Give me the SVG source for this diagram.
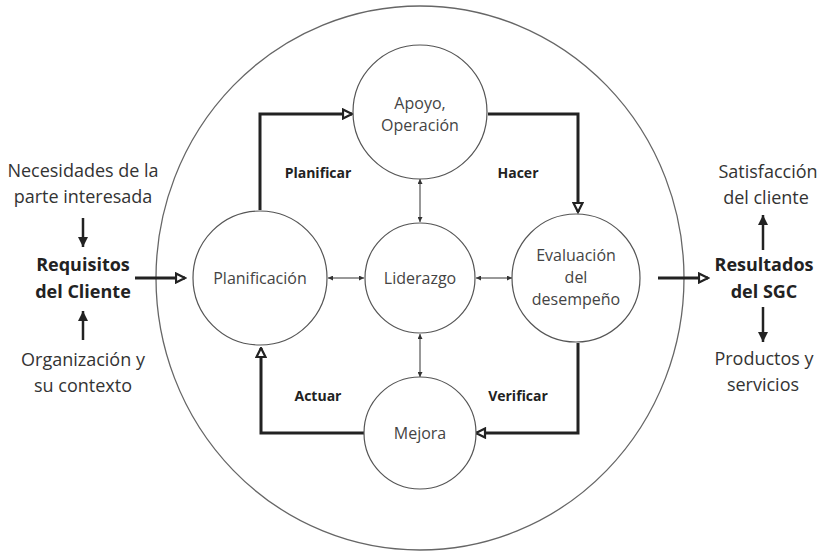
<svg xmlns="http://www.w3.org/2000/svg" width="823" height="551" viewBox="0 0 823 551">
<style>
  .node { fill: #fff; stroke: #555; stroke-width: 1.2; }
  .big { fill: none; stroke: #666; stroke-width: 1.3; }
  .t { font-family: "Open Sans", "Noto Sans", sans-serif; font-size: 18px; fill: #333; text-anchor: middle; }
  .c { font-family: "Open Sans", "Noto Sans", sans-serif; font-size: 16px; fill: #444; text-anchor: middle; }
  .b { font-family: "Open Sans", "Noto Sans", sans-serif; font-size: 18px; font-weight: bold; fill: #222; text-anchor: middle; }
  .lab { font-family: "Open Sans", "Noto Sans", sans-serif; font-size: 14px; font-weight: bold; fill: #222; text-anchor: middle; }
  .thick { fill: none; stroke: #222; stroke-width: 3; marker-end: url(#hollow); }
  .side { fill: none; stroke: #222; stroke-width: 2.5; marker-end: url(#solid); }
  .thin { fill: none; stroke: #333; stroke-width: 1; marker-start: url(#small); marker-end: url(#small); }
</style>
<defs>
  <marker id="hollow" viewBox="0 0 12 12" refX="10.5" refY="6" markerWidth="12" markerHeight="12" markerUnits="userSpaceOnUse" orient="auto">
    <path d="M1.5,1.5 L10.5,6 L1.5,10.5 z" fill="#fff" stroke="#222" stroke-width="2.2"/>
  </marker>
  <marker id="solid" viewBox="0 0 10 10" refX="10" refY="5" markerWidth="10" markerHeight="11" markerUnits="userSpaceOnUse" orient="auto">
    <path d="M0,0 L10,5 L0,10 z" fill="#222"/>
  </marker>
  <marker id="small" viewBox="0 0 6 6" refX="6" refY="3" markerWidth="6" markerHeight="5" markerUnits="userSpaceOnUse" orient="auto-start-reverse">
    <path d="M0,0 L6,3 L0,6 z" fill="#333"/>
  </marker>
</defs>

<ellipse class="big" cx="420" cy="278" rx="264" ry="272"/>

<g id="connectors">
  <path class="thick" d="M260,210 V114 H352"/>
  <path class="thick" d="M488,114 H578 V212"/>
  <path class="thick" d="M578,343 V433 H476"/>
  <path class="thick" d="M364,433 H261 V348"/>
  <path class="thick" d="M135,278 H185"/>
  <path class="thick" d="M658,278 H708"/>
  <path class="thin" d="M420,179 V222"/>
  <path class="thin" d="M420,334 V377"/>
  <path class="thin" d="M328,278 H364"/>
  <path class="thin" d="M476,278 H512"/>
  <path class="side" d="M83,218 V247"/>
  <path class="side" d="M83,340 V311"/>
  <path class="side" d="M763,250 V215"/>
  <path class="side" d="M763,307 V342"/>
</g>

<g id="planificacion">
  <circle class="node" cx="260" cy="278" r="67"/>
  <text class="c" x="260" y="284">Planificación</text>
</g>
<g id="liderazgo">
  <circle class="node" cx="420" cy="278" r="55"/>
  <text class="c" x="420" y="284">Liderazgo</text>
</g>
<g id="evaluacion">
  <circle class="node" cx="576" cy="278" r="64"/>
  <text class="c" x="576" y="261">Evaluación</text>
  <text class="c" x="576" y="283">del</text>
  <text class="c" x="576" y="305">desempeño</text>
</g>
<g id="apoyo">
  <circle class="node" cx="420" cy="112" r="67"/>
  <text class="c" x="420" y="109">Apoyo,</text>
  <text class="c" x="420" y="131">Operación</text>
</g>
<g id="mejora">
  <circle class="node" cx="420" cy="433" r="56"/>
  <text class="c" x="420" y="439">Mejora</text>
</g>

<g id="labels">
  <text class="lab" x="318" y="178">Planificar</text>
  <text class="lab" x="518" y="178">Hacer</text>
  <text class="lab" x="318" y="401">Actuar</text>
  <text class="lab" x="518" y="401">Verificar</text>
</g>

<g id="entrada">
  <text class="t" x="83" y="177">Necesidades de la</text>
  <text class="t" x="83" y="203">parte interesada</text>
  <text class="b" x="83" y="271">Requisitos</text>
  <text class="b" x="83" y="298">del Cliente</text>
  <text class="t" x="83" y="366">Organización y</text>
  <text class="t" x="83" y="392">su contexto</text>
</g>

<g id="salida">
  <text class="t" x="768" y="178">Satisfacción</text>
  <text class="t" x="766" y="204">del cliente</text>
  <text class="b" x="764" y="271">Resultados</text>
  <text class="b" x="764" y="298">del SGC</text>
  <text class="t" x="764" y="365">Productos y</text>
  <text class="t" x="763" y="391">servicios</text>
</g>
</svg>
